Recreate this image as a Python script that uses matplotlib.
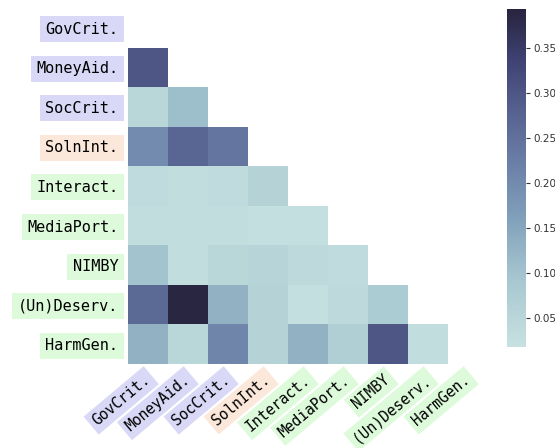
import numpy as np
import matplotlib
matplotlib.use("Agg")
import matplotlib.pyplot as plt
from matplotlib.colors import LinearSegmentedColormap

labels = ["GovCrit.", "MoneyAid.", "SocCrit.", "SolnInt.", "Interact.",
          "MediaPort.", "NIMBY", "(Un)Deserv.", "HarmGen."]
# label group -> background colour
groups = ["crit", "crit", "crit", "soln", "other", "other", "other", "other", "other"]
group_colors = {"crit": "#d9d9f7", "soln": "#fbe8da", "other": "#ddfbdb"}

# lower triangle values (row i, columns 0..i-1)
rows = [
    [],
    [0.300],
    [0.050, 0.110],
    [0.200, 0.270, 0.240],
    [0.035, 0.030, 0.035, 0.060],
    [0.030, 0.030, 0.030, 0.025, 0.025],
    [0.100, 0.030, 0.050, 0.055, 0.040, 0.035],
    [0.265, 0.390, 0.130, 0.060, 0.025, 0.040, 0.080],
    [0.130, 0.050, 0.210, 0.060, 0.130, 0.070, 0.300, 0.030],
]

n = len(labels)
mat = np.full((n, n), np.nan)
for i, r in enumerate(rows):
    for j, v in enumerate(r):
        mat[i, j] = v
data = np.ma.masked_invalid(mat)

cmap = LinearSegmentedColormap.from_list("refmap", [
    (0.00, "#c7e1e0"),
    (0.20, "#a6c7d0"),
    (0.40, "#7d9cb8"),
    (0.55, "#6a7ea6"),
    (0.70, "#56618f"),
    (0.85, "#3f4272"),
    (1.00, "#28243f"),
])
vmin, vmax = 0.018, 0.393

fig = plt.figure(figsize=(5.55, 4.48), dpi=100)
ax = fig.add_axes([128 / 555, 1 - 364 / 448, 360 / 555, 356 / 448])
mesh = ax.pcolormesh(np.arange(n + 1), np.arange(n + 1), data, cmap=cmap,
                     vmin=vmin, vmax=vmax)
ax.set_xlim(0, n)
ax.set_ylim(n, 0)
for s in ax.spines.values():
    s.set_visible(False)

ticks = np.arange(n) + 0.5
ax.set_xticks(ticks)
ax.set_yticks(ticks)
ax.set_xticklabels(labels, rotation=40, ha="right", va="center",
                   rotation_mode="anchor", family="DejaVu Sans Mono", fontsize=10.5)
ax.set_yticklabels(labels, family="DejaVu Sans Mono", fontsize=11)
ax.tick_params(axis="y", length=0, pad=7)
ax.tick_params(axis="x", length=0, pad=10)
for lab, g in zip(ax.get_xticklabels(), groups):
    lab.set_bbox(dict(facecolor=group_colors[g], edgecolor="none", pad=3))
for lab, g in zip(ax.get_yticklabels(), groups):
    lab.set_bbox(dict(facecolor=group_colors[g], edgecolor="none", pad=4))

cax = fig.add_axes([507 / 555, 1 - 347 / 448, 19 / 555, 338 / 448])
cb = fig.colorbar(mesh, cax=cax)
cb.outline.set_visible(False)
cb.set_ticks([0.05, 0.10, 0.15, 0.20, 0.25, 0.30, 0.35])
cb.ax.tick_params(labelsize=7.5, length=3, width=0.8, pad=2, colors="#333333")

fig.savefig("out.png", dpi=100)
